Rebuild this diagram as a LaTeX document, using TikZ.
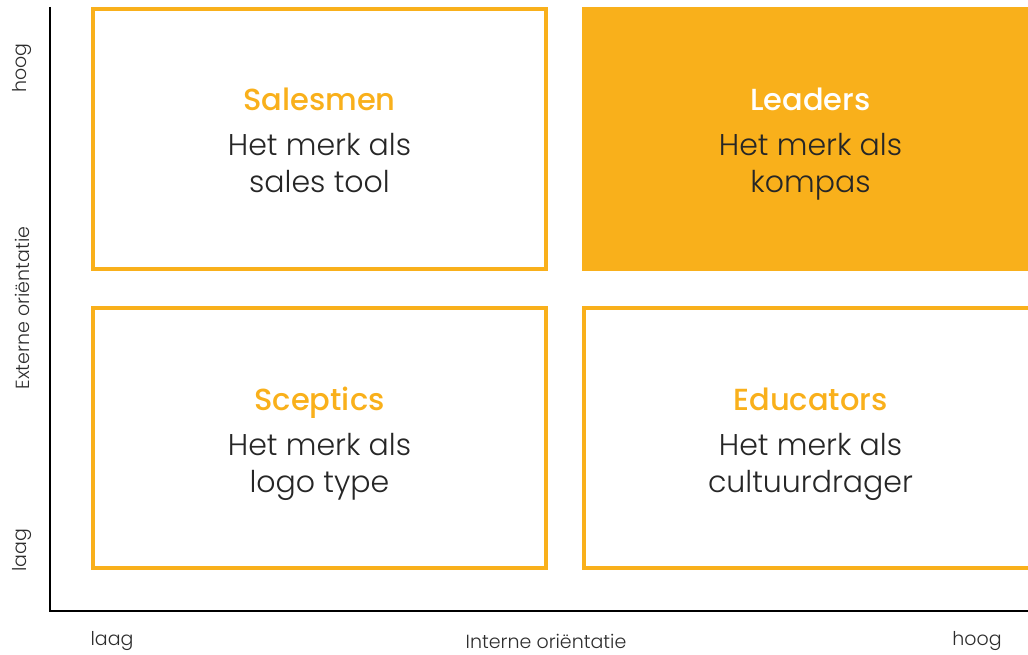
\documentclass[tikz,border=0pt]{standalone}
\usepackage{fontspec}
\setmainfont{Poppins}
\newfontfamily\dunfont{Poppins Light}
\newfontfamily\halfvet{Poppins Medium}
\usetikzlibrary{calc,positioning}
\definecolor{merkgeel}{RGB}{249,176,27}
\definecolor{asgrijs}{RGB}{45,45,45}
\tikzset{
  kwadrant/.style={rectangle, draw=merkgeel, line width=4pt,
                   minimum width=453pt, minimum height=260pt, inner sep=0pt},
  kwadrantvol/.style={kwadrant, fill=merkgeel},
  ktitel/.style={anchor=base, font=\halfvet\fontsize{30.5}{36}\selectfont, text=merkgeel},
  ktekst/.style={anchor=base, font=\dunfont\fontsize{30}{37}\selectfont, text=black!85},
  aslabel/.style={font=\dunfont\fontsize{19}{22}\selectfont, text=asgrijs},
  as/.style={line width=1.3pt, black},
}

\begin{document}
\begin{tikzpicture}[x=1pt, y=-1pt]
  \useasboundingbox (0,0) rectangle (1028,655);
  \clip (0,0) rectangle (1028,655);
  % assen
  \coordinate (ytop) at (50,7);
  \coordinate (oorsprong) at (50,611);
  \coordinate (xeind) at (1028,611);
  \draw[as] (ytop) -- (oorsprong) -- (xeind);
  % vier kwadranten
  \node[kwadrant]    (salesmen)  at (319.5,139) {};
  \node[kwadrantvol] (leaders)   at (810.5,139) {};
  \node[kwadrant]    (sceptics)  at (319.5,438) {};
  \node[kwadrant]    (educators) at (810.5,438) {};
  % titel en twee regels per kwadrant
  \node[ktitel] (t1) at ($(salesmen.center)+(0,-28)$) {Salesmen};
  \node[ktekst] (a1) at ($(salesmen.center)+(0,17)$)  {Het merk als};
  \node[ktekst] (b1) at ($(salesmen.center)+(0,54)$)  {sales tool};
  \node[ktitel, text=white] (t2) at ($(leaders.center)+(0,-28)$) {Leaders};
  \node[ktekst] (a2) at ($(leaders.center)+(0,17)$)  {Het merk als};
  \node[ktekst] (b2) at ($(leaders.center)+(0,54)$)  {kompas};
  \node[ktitel] (t3) at ($(sceptics.center)+(0,-28)$) {Sceptics};
  \node[ktekst] (a3) at ($(sceptics.center)+(0,17)$)  {Het merk als};
  \node[ktekst] (b3) at ($(sceptics.center)+(0,54)$)  {logo type};
  \node[ktitel] (t4) at ($(educators.center)+(0,-28)$) {Educators};
  \node[ktekst] (a4) at ($(educators.center)+(0,17)$)  {Het merk als};
  \node[ktekst] (b4) at ($(educators.center)+(0,54)$)  {cultuurdrager};
  % aslabels
  \node[aslabel, rotate=90] (yhoog) at (22,68)  {hoog};
  \node[aslabel, rotate=90] (ynaam) at (22,308) {Externe oriëntatie};
  \node[aslabel, rotate=90] (ylaag) at (22,550) {laag};
  \node[aslabel] (xlaag) at (112,641) {laag};
  \node[aslabel] (xnaam) at (546,641) {Interne oriëntatie};
  \node[aslabel] (xhoog) at (977,641) {hoog};
\end{tikzpicture}
\end{document}
